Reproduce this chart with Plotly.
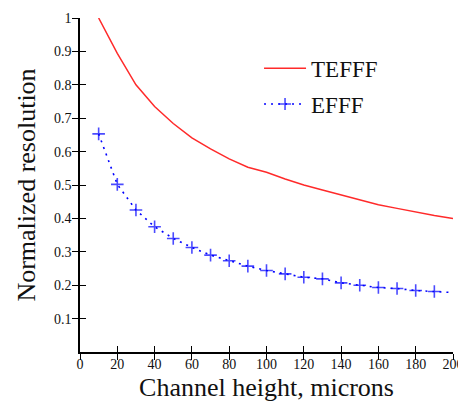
import plotly.graph_objects as go

height_um = [10, 20, 30, 40, 50, 60, 70, 80, 90, 100,
             110, 120, 130, 140, 150, 160, 170, 180, 190, 200]
tefff = [1.0, 0.894, 0.80, 0.735, 0.684, 0.641, 0.608, 0.578, 0.553, 0.538,
         0.518, 0.500, 0.485, 0.470, 0.455, 0.441, 0.430, 0.419, 0.409, 0.400]
efff = [0.653, 0.502, 0.425, 0.375, 0.340, 0.313, 0.290, 0.273, 0.257, 0.244,
        0.234, 0.224, 0.219, 0.207, 0.200, 0.193, 0.190, 0.184, 0.181, 0.178]
efff_marker_size = [9] * 19 + [0]

x_ticks = [0, 20, 40, 60, 80, 100, 120, 140, 160, 180, 200]
y_ticks = [0.1, 0.2, 0.3, 0.4, 0.5, 0.6, 0.7, 0.8, 0.9, 1]
y_tick_text = ["0.1", "0.2", "0.3", "0.4", "0.5", "0.6", "0.7", "0.8", "0.9", "1"]

FONT = "Liberation Serif"

fig = go.Figure()
fig.add_trace(go.Scatter(
    x=height_um, y=tefff, name="TEFFF", mode="lines",
    line=dict(color="#ff2a2a", width=1.5), legendgroup="a",
    xaxis="x", yaxis="y"))
fig.add_trace(go.Scatter(
    x=height_um, y=efff, name="EFFF", mode="lines+markers",
    line=dict(color="#0000ff", width=1.6, dash="2px,5px"),
    marker=dict(symbol="cross-thin", size=efff_marker_size,
                line=dict(color="#0000ff", width=1.6)),
    legendgroup="b", xaxis="x2", yaxis="y2"))

tick_common = dict(showgrid=False, zeroline=False, ticklen=6, tickwidth=1.3,
                   tickcolor="black", automargin=False,
                   showline=True, linecolor="black", linewidth=1.5)
tick_font = dict(family=FONT, size=14, color="#111")

fig.update_layout(
    width=466, height=403,
    # the page body adds an 8px offset; margins compensate for it
    margin=dict(l=72, r=21, t=10, b=59),
    paper_bgcolor="white", plot_bgcolor="white",
    font=dict(family=FONT, color="#111"),
    xaxis=dict(range=[0, 200], tickvals=x_ticks, ticks="outside",
               tickfont=tick_font, ticklabelstandoff=-8,
               title=dict(text="Channel height, microns",
                          font=dict(family=FONT, size=26, color="#111"), standoff=7),
               **tick_common),
    yaxis=dict(range=[0, 1], tickvals=y_ticks, ticktext=y_tick_text, ticks="outside",
               tickfont=tick_font, ticklabelstandoff=-2,
               title=dict(text="Normalized resolution",
                          font=dict(family=FONT, size=26, color="#111"), standoff=11),
               **tick_common),
    xaxis2=dict(range=[0, 200], tickvals=x_ticks, ticks="inside", overlaying="x",
                matches="x", anchor="y2", side="bottom", showticklabels=False,
                **tick_common),
    yaxis2=dict(range=[0, 1], tickvals=y_ticks, ticks="inside", overlaying="y",
                matches="y", anchor="x2", side="left", showticklabels=False,
                **tick_common),
    legend=dict(x=0.48, y=0.914, xanchor="left", yanchor="top",
                font=dict(family=FONT, size=23, color="#111"),
                tracegroupgap=3, traceorder="grouped", itemwidth=42,
                bgcolor="rgba(0,0,0,0)"),
    showlegend=True,
)

fig.write_html("out.html")
